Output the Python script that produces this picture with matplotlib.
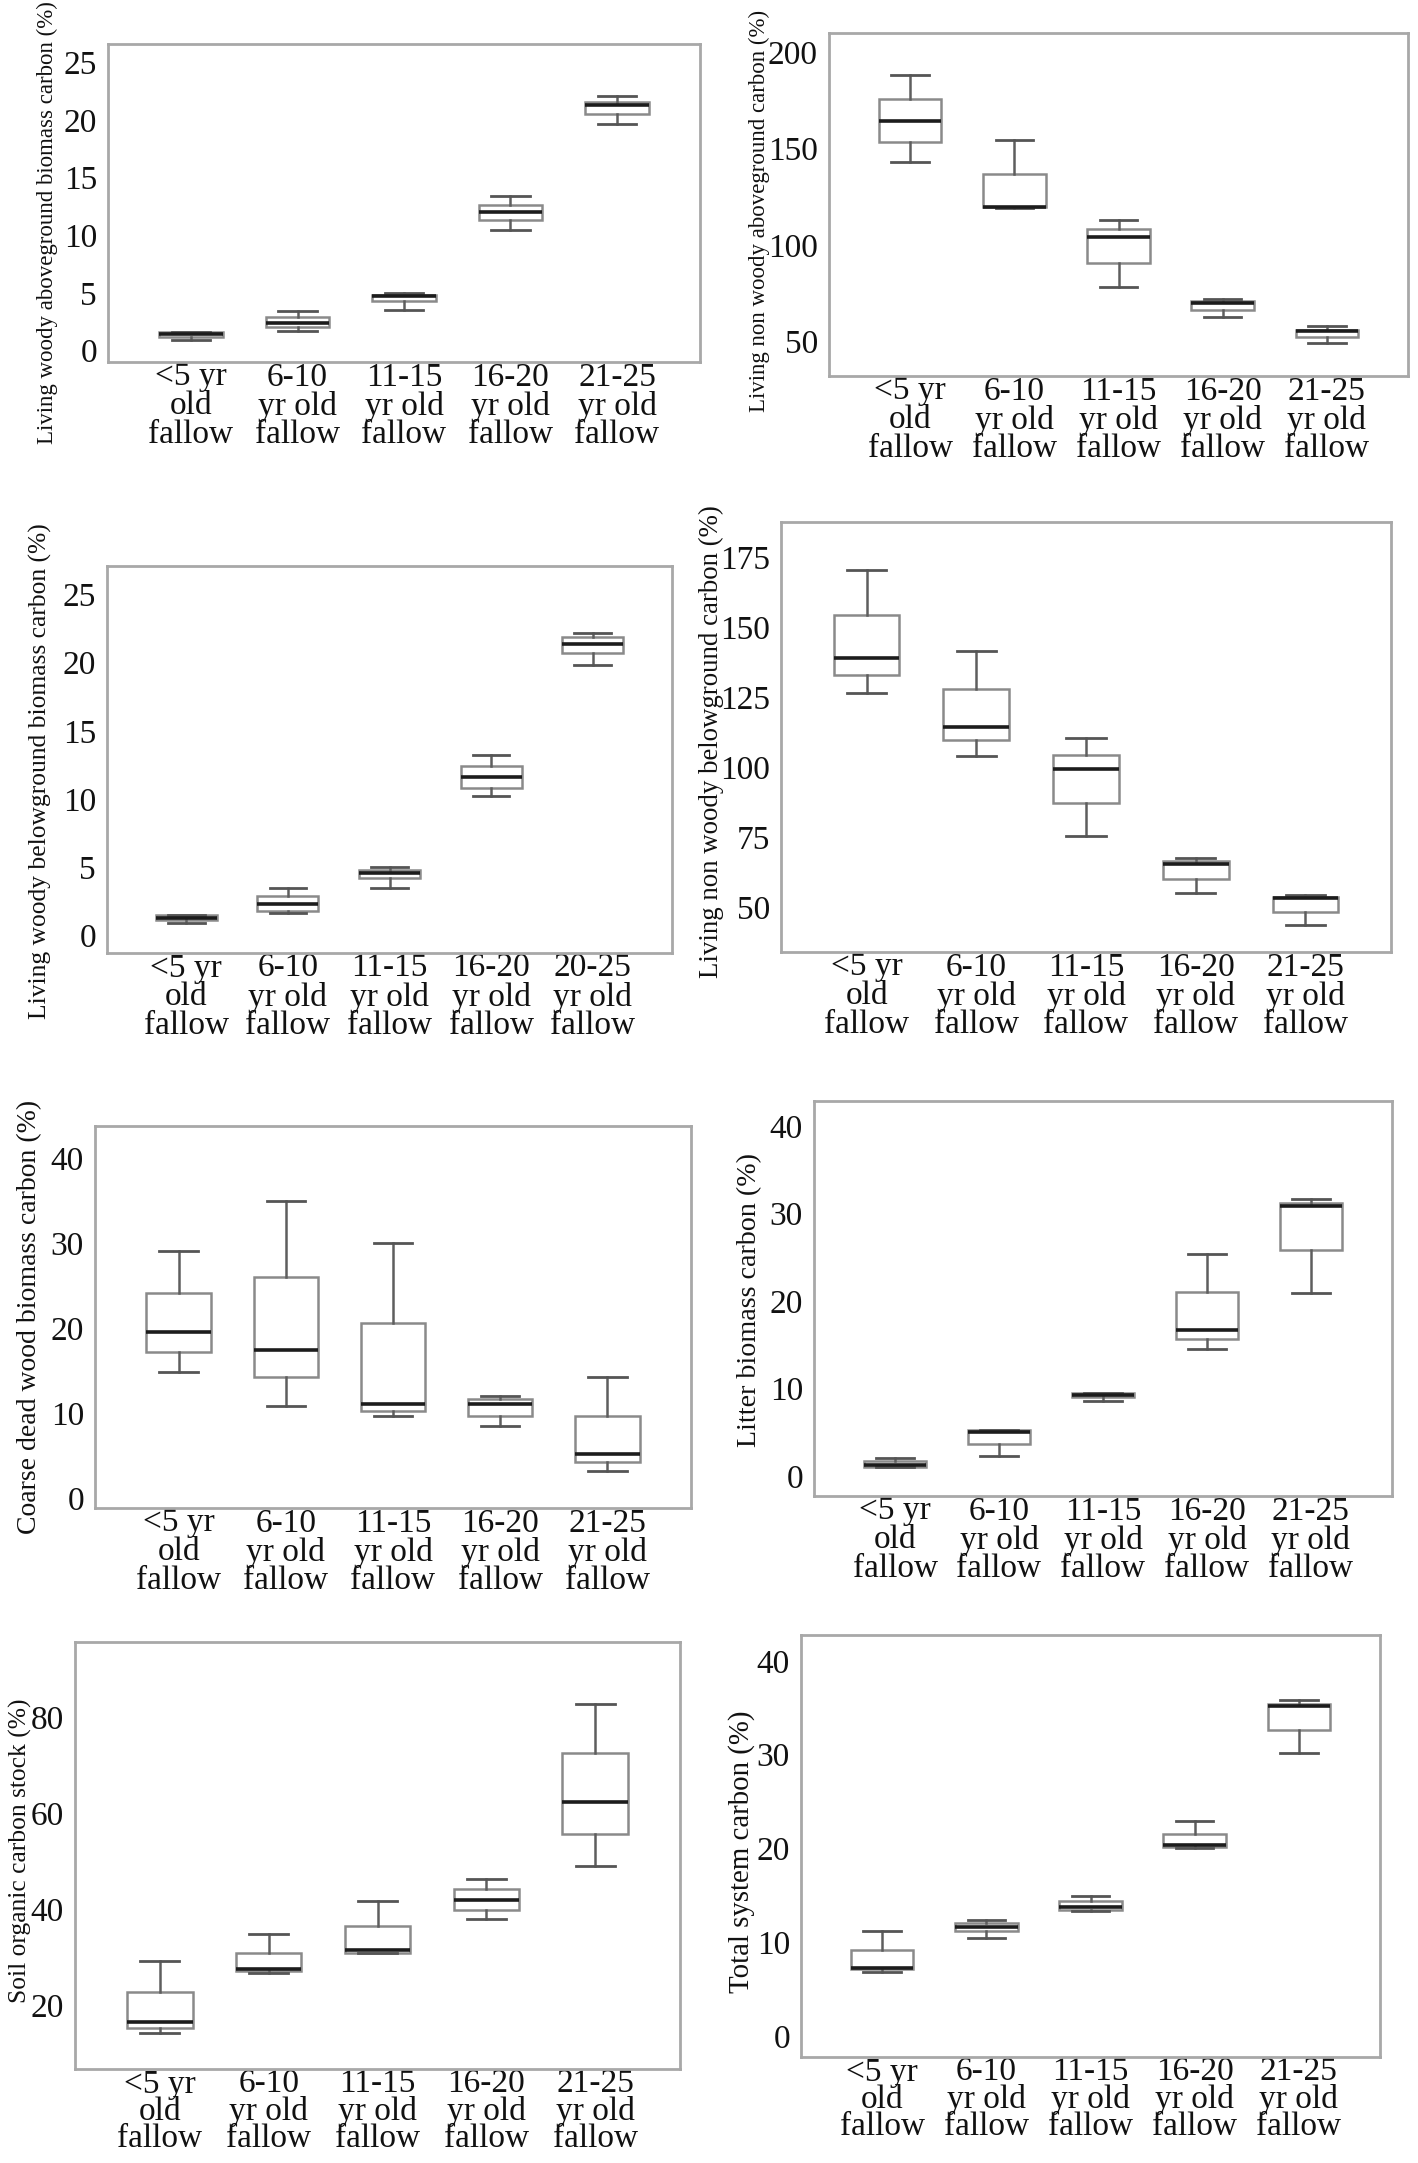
import matplotlib
matplotlib.use("Agg")
import matplotlib.pyplot as plt

plt.rcParams['font.family'] = ['Liberation Serif', 'DejaVu Serif']

W, H = 1418, 2163

labels_std = ['<5 yr\nold\nfallow', '6-10\nyr old\nfallow', '11-15\nyr old\nfallow',
              '16-20\nyr old\nfallow', '21-25\nyr old\nfallow']
labels_p3 = labels_std[:4] + ['20-25\nyr old\nfallow']

# --- data (whisker low, Q1, median, Q3, whisker high) ---
p1_lo = [0.9, 1.7, 3.5, 10.5, 19.7]
p1_q1 = [1.2, 2.0, 4.3, 11.3, 20.5]
p1_md = [1.4, 2.4, 4.7, 12.0, 21.3]
p1_q3 = [1.6, 2.9, 4.85, 12.6, 21.6]
p1_hi = [1.6, 3.4, 5.0, 13.4, 22.05]

p2_lo = [143, 119.3, 78.2, 62.7, 49.1]
p2_q1 = [153.6, 119.8, 90.7, 66.1, 52.3]
p2_md = [164.4, 119.8, 104, 70, 55.2]
p2_q3 = [176, 137, 108.4, 70.8, 56]
p2_hi = [188.1, 154.5, 112.9, 72.2, 57.8]

p3_lo = [0.9, 1.6, 3.5, 10.2, 19.8]
p3_q1 = [1.1, 1.8, 4.2, 10.8, 20.7]
p3_md = [1.3, 2.3, 4.6, 11.6, 21.4]
p3_q3 = [1.5, 2.9, 4.8, 12.4, 21.9]
p3_hi = [1.5, 3.5, 5.0, 13.2, 22.2]

p4_lo = [126.4, 104, 75.4, 55, 43.6]
p4_q1 = [132.9, 109.5, 87.2, 60.2, 48.3]
p4_md = [138.8, 114.2, 99.3, 65.5, 53.3]
p4_q3 = [154.4, 127.8, 104.4, 66.5, 53.6]
p4_hi = [170.3, 141.5, 110.3, 67.4, 54.2]

p5_lo = [14.9, 10.9, 9.7, 8.5, 3.3]
p5_q1 = [17.2, 14.3, 10.3, 9.7, 4.3]
p5_md = [19.6, 17.5, 11.1, 11.1, 5.3]
p5_q3 = [24.2, 26.1, 20.6, 11.7, 9.7]
p5_hi = [29.1, 35.0, 30.0, 12.1, 14.3]

p6_lo = [1.0, 2.3, 8.6, 14.5, 20.9]
p6_q1 = [1.05, 3.6, 9.0, 15.7, 25.8]
p6_md = [1.3, 5.05, 9.3, 16.7, 30.9]
p6_q3 = [1.65, 5.25, 9.5, 21.1, 31.25]
p6_hi = [2.0, 5.3, 9.5, 25.4, 31.7]

p7_lo = [14.1, 26.7, 30.9, 38.0, 49.0]
p7_q1 = [15.2, 27.0, 30.9, 39.8, 55.7]
p7_md = [16.5, 27.4, 31.4, 41.8, 62.4]
p7_q3 = [22.7, 30.8, 36.5, 44.2, 72.7]
p7_hi = [29.2, 34.7, 41.7, 46.3, 82.9]

p8_lo = [6.9, 10.5, 13.4, 20.1, 30.2]
p8_q1 = [7.15, 11.2, 13.5, 20.2, 32.6]
p8_md = [7.3, 11.7, 13.8, 20.4, 35.2]
p8_q3 = [9.2, 12.1, 14.4, 21.6, 35.4]
p8_hi = [11.2, 12.4, 15.0, 22.9, 35.85]

panels = [
    # ylabel, data, xlabels, ylim, yticks, rect(px: l, r, t, b),
    # ylabel (x offset px, y frac, size), x tick line spacing
    ("Living woody aboveground biomass carbon (%)", (p1_lo, p1_q1, p1_md, p1_q3, p1_hi),
     labels_std, (-1.0, 26.6), range(0, 26, 5), (108, 700, 44, 362), (-50, 0.44, 16.5), 0.92),
    ("Living non woody aboveground carbon (%)", (p2_lo, p2_q1, p2_md, p2_q3, p2_hi),
     labels_std, (32, 210), range(50, 201, 50), (829, 1408, 33, 376), (-59, 0.48, 16.5), 0.92),
    ("Living woody belowground biomass carbon (%)", (p3_lo, p3_q1, p3_md, p3_q3, p3_hi),
     labels_p3, (-1.3, 27.1), range(0, 26, 5), (107, 672, 566, 953), (-55, 0.47, 18.4), 0.92),
    ("Living non woody belowground carbon (%)", (p4_lo, p4_q1, p4_md, p4_q3, p4_hi),
     labels_std, (34, 187.4), range(50, 176, 25), (781, 1391, 522, 952), (-57, 0.49, 19.4), 0.92),
    ("Coarse dead wood biomass carbon (%)", (p5_lo, p5_q1, p5_md, p5_q3, p5_hi),
     labels_std, (-1.1, 43.8), range(0, 41, 10), (95, 691, 1126, 1508), (-53, 0.50, 20), 0.92),
    ("Litter biomass carbon (%)", (p6_lo, p6_q1, p6_md, p6_q3, p6_hi),
     labels_std, (-2.3, 42.9), range(0, 41, 10), (814, 1392, 1101, 1496), (-52, 0.495, 20.2), 0.92),
    ("Soil organic carbon stock (%)", (p7_lo, p7_q1, p7_md, p7_q3, p7_hi),
     labels_std, (6.6, 95.8), range(20, 81, 20), (75, 680, 1642, 2069), (-43, 0.51, 18.4), 0.86),
    ("Total system carbon (%)", (p8_lo, p8_q1, p8_md, p8_q3, p8_hi),
     labels_std, (-2.2, 42.75), range(0, 41, 10), (801, 1380, 1635, 2057), (-46, 0.487, 20.8), 0.86),
]

fig = plt.figure(figsize=(W / 100, H / 100), dpi=100)
fig.patch.set_facecolor('white')

for ylabel, (lo, q1, md, q3, hi), xl, ylim, yticks, rect, (lx, ly, lsize), lsp in panels:
    l, r, t, b = rect
    ax = fig.add_axes([l / W, 1 - b / H, (r - l) / W, (b - t) / H])
    stats = [dict(whislo=lo[i], q1=q1[i], med=md[i], q3=q3[i], whishi=hi[i], fliers=[])
             for i in range(len(md))]
    ax.bxp(stats, positions=range(len(md)), widths=0.6, capwidths=0.36,
           patch_artist=True, showfliers=False,
           boxprops=dict(facecolor='white', edgecolor='#8a8a8a', linewidth=1.8),
           medianprops=dict(color='#1c1c1c', linewidth=2.6),
           whiskerprops=dict(color='#5e5e5e', linewidth=1.8),
           capprops=dict(color='#555555', linewidth=2.0))
    ax.set_xlim(-0.78, 4.78)
    ax.set_ylim(*ylim)
    ax.set_yticks(list(yticks))
    ax.set_xticks(range(len(xl)))
    ax.set_xticklabels(xl, fontsize=24, color='#111111')
    for lbl in ax.get_xticklabels():
        lbl.set_linespacing(lsp)
    ax.tick_params(axis='y', labelsize=24, labelcolor='#111111', length=0, pad=8)
    ax.tick_params(axis='x', length=0, pad=0)
    for sp in ax.spines.values():
        sp.set_color('#a8a8a8')
        sp.set_linewidth(2.0)
    ax.set_ylabel(ylabel, fontsize=lsize, color='#111111')
    ax.yaxis.set_label_coords(lx / (r - l), ly)

fig.savefig('out.png', dpi=100, facecolor='white')
